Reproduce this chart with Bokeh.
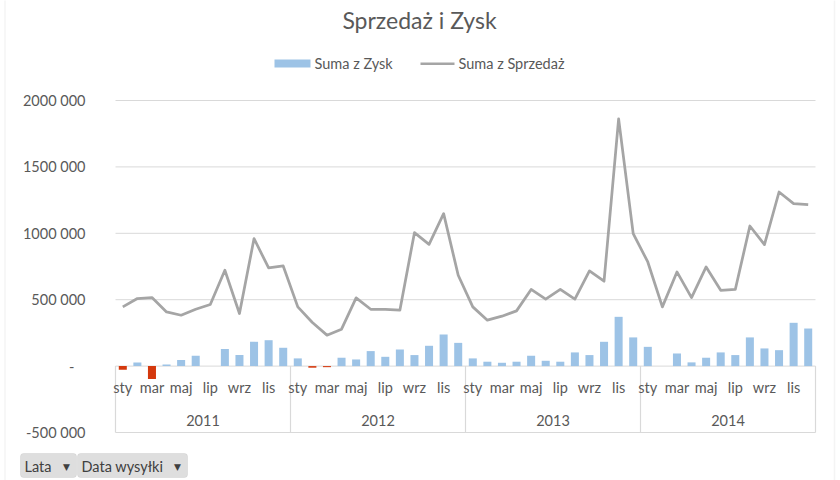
from bokeh.plotting import figure
from bokeh.models import Range1d, Label, BoxAnnotation, ColumnDataSource
from bokeh.core.properties import value
from bokeh.embed import file_html
from bokeh.resources import INLINE

# ---------------- data ----------------
years = ["2011", "2012", "2013", "2014"]
month_names = ["sty", "lut", "mar", "kwi", "maj", "cze", "lip", "sie", "wrz", "paź", "lis", "gru"]
shown_months = ["sty", "mar", "maj", "lip", "wrz", "lis"]

sales_2011 = [446000, 509000, 516000, 408000, 383000, 428000, 464000, 722000, 396000, 960000, 739000, 754000]
sales_2012 = [446000, 328000, 233000, 278000, 514000, 428000, 428000, 421000, 1005000, 917000, 1148000, 684000]
sales_2013 = [446000, 346000, 376000, 416000, 577000, 504000, 577000, 504000, 717000, 639000, 1862000, 998000]
sales_2014 = [784000, 446000, 709000, 516000, 747000, 571000, 577000, 1055000, 915000, 1311000, 1223000, 1216000]

profit_2011 = [-28000, 28000, -98000, 12000, 45000, 78000, 0, 128000, 83000, 183000, 195000, 138000]
profit_2012 = [58000, -12000, -8000, 63000, 50000, 113000, 70000, 125000, 83000, 153000, 238000, 175000]
profit_2013 = [58000, 33000, 25000, 33000, 78000, 40000, 33000, 103000, 83000, 183000, 371000, 216000]
profit_2014 = [145000, 0, 95000, 28000, 63000, 103000, 83000, 216000, 133000, 120000, 326000, 283000]

y_ticks = [-500000, 0, 500000, 1000000, 1500000, 2000000]
y_tick_labels = ["-500 000", "-\u00a0\u00a0\u00a0", "500 000", "1000 000", "1500 000", "2000 000"]

title_text = "Sprzedaż i Zysk"
legend_profit = "Suma z Zysk"
legend_sales = "Suma z Sprzedaż"
button_labels = ["Lata", "Data wysyłki"]

# ---------------- derived ----------------
sales = sales_2011 + sales_2012 + sales_2013 + sales_2014
profit = profit_2011 + profit_2012 + profit_2013 + profit_2014
n = len(sales)
idx = list(range(n))

BLUE = "#9DC3E6"
RED = "#D4380D"
GRAY_LINE = "#A5A5A5"
TXT = "#595959"
GRID = "#D9D9D9"
FONT = "Lato"

# layout geometry (pixels): plot area of the chart inside the canvas
W, H = 840, 480
FL, FR, FT, FB = 115, 815, 100, 432

x_lo, x_hi = -0.5, n - 0.5
y_lo, y_hi = y_ticks[0], y_ticks[-1]


def px2x(px):
    return x_lo + (px - FL) * (x_hi - x_lo) / (FR - FL)


def px2y(py):
    return y_hi - (py - FT) * (y_hi - y_lo) / (FB - FT)


p = figure(width=W, height=H, output_backend="svg", toolbar_location=None,
           x_range=Range1d(px2x(0), px2x(W)), y_range=Range1d(px2y(H), px2y(0)),
           min_border_left=0, min_border_right=0, min_border_top=0, min_border_bottom=0)
p.outline_line_color = None
p.background_fill_color = "white"
p.border_fill_color = "white"
p.xaxis.visible = False
p.yaxis.visible = False
p.xgrid.visible = False
p.ygrid.visible = False

# horizontal gridlines (value axis)
p.segment(x0=[x_lo] * len(y_ticks), y0=y_ticks, x1=[x_hi] * len(y_ticks), y1=y_ticks,
          line_color=GRID, line_width=1)

# value-axis labels
p.text(x=[px2x(85)] * len(y_ticks), y=y_ticks, text=y_tick_labels, text_align="right",
       text_baseline="middle", text_font=value(FONT), text_font_size="14.5px", text_color=TXT)

# bars
colors = [BLUE if v >= 0 else RED for v in profit]
src = ColumnDataSource(dict(x=idx, top=profit, color=colors))
p.vbar(x="x", top="top", bottom=0, width=0.55, fill_color="color", line_color=None, source=src)

# line
p.line(idx, sales, color=GRAY_LINE, line_width=2.75, line_join="round")

# category axis box: year separators
bounds = [i * 12 - 0.5 for i in range(len(years) + 1)]
p.segment(x0=bounds, y0=[0] * len(bounds), x1=bounds, y1=[y_lo] * len(bounds),
          line_color=GRID, line_width=1.2)

# month labels
mx, mt = [], []
for yi in range(len(years)):
    for m in shown_months:
        mx.append(yi * 12 + month_names.index(m))
        mt.append(m)
p.text(x=mx, y=[px2y(387)] * len(mx), text=mt, text_align="center", text_baseline="middle",
       text_font=value(FONT), text_font_size="14.5px", text_color=TXT)

# year labels
yx = [yi * 12 + 5.5 for yi in range(len(years))]
p.text(x=yx, y=[px2y(420)] * len(yx), text=years, text_align="center", text_baseline="middle",
       text_font=value(FONT), text_font_size="14.5px", text_color=TXT)

# title
p.add_layout(Label(x=px2x(419), y=px2y(19), text=title_text, text_align="center",
                   text_baseline="middle", text_font=FONT, text_font_size="23px",
                   text_color=TXT))

# legend
p.add_layout(BoxAnnotation(left=px2x(274), right=px2x(310), top=px2y(59), bottom=px2y(67),
                           fill_color=BLUE, fill_alpha=1, line_color=None, level="annotation"))
p.add_layout(Label(x=px2x(314), y=px2y(63), text=legend_profit, text_align="left",
                   text_baseline="middle", text_font=FONT, text_font_size="14.5px",
                   text_color=TXT, level="overlay"))
p.add_layout(BoxAnnotation(left=px2x(420), right=px2x(454), top=px2y(62), bottom=px2y(64.5),
                           fill_color=GRAY_LINE, fill_alpha=1, line_color=None, level="annotation"))
p.add_layout(Label(x=px2x(458), y=px2y(63), text=legend_sales, text_align="left",
                   text_baseline="middle", text_font=FONT, text_font_size="14.5px",
                   text_color=TXT, level="overlay"))

# outer chart border
p.add_layout(BoxAnnotation(left=px2x(4.5), right=px2x(834), top=px2y(-10), bottom=px2y(490),
                           fill_alpha=0, line_color=GRID, line_width=1.5, level="annotation"))

# buttons
btns = [(20, 76), (77, 187)]
for (l, r), t in zip(btns, button_labels):
    p.add_layout(BoxAnnotation(left=px2x(l), right=px2x(r), top=px2y(453), bottom=px2y(477),
                               fill_color="#DEDEDE", fill_alpha=1, line_color="#BEBEBE",
                               line_width=1, border_radius=3, level="annotation"))
    p.add_layout(Label(x=px2x(l + 4), y=px2y(466), text=t, text_align="left",
                       text_baseline="middle", text_font=FONT, text_font_size="14.5px",
                       text_color="#404040", level="overlay"))
    p.add_layout(Label(x=px2x(r - 10), y=px2y(466), text="\u25bc", text_align="center",
                       text_baseline="middle", text_font="DejaVu Sans", text_font_size="9px",
                       text_color="#404040", level="overlay"))

open("out.html", "w").write(file_html(p, INLINE))
